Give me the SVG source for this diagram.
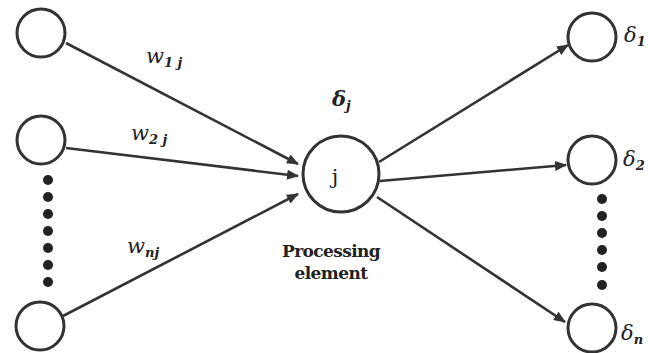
<svg xmlns="http://www.w3.org/2000/svg" width="648" height="353" viewBox="0 0 648 353">
<style>
.n{fill:#fff;stroke:#333;stroke-width:3}
.e{stroke:#333;stroke-width:2.6;fill:none;marker-end:url(#a)}
.d{fill:#222}
text{font-family:'DejaVu Serif','Liberation Serif',serif;fill:#222}
.w{font-style:italic;font-size:21px}
.s{font-size:13px;font-weight:bold}
.p{font-weight:bold;font-size:17px;text-anchor:middle;letter-spacing:-0.6px}
</style>
<defs>
<marker id="a" markerWidth="12" markerHeight="10" refX="11" refY="5" orient="auto" markerUnits="userSpaceOnUse">
<path d="M0,0 L12,5 L0,10 Z" fill="#333"/>
</marker>
</defs>
<rect width="648" height="353" fill="#fff"/>
<g id="connectors">
<line class="e" x1="66" y1="43" x2="298" y2="164"/>
<line class="e" x1="66" y1="148" x2="298" y2="176"/>
<line class="e" x1="63" y1="316" x2="298" y2="194"/>
<line class="e" x1="379" y1="162" x2="568" y2="45"/>
<line class="e" x1="380" y1="181" x2="566" y2="165"/>
<line class="e" x1="377" y1="197" x2="565" y2="322"/>
</g>
<g id="in1"><circle class="n" cx="41" cy="33" r="24"/></g>
<g id="in2"><circle class="n" cx="41" cy="140" r="24"/></g>
<g id="inN"><circle class="n" cx="40" cy="326" r="24"/></g>
<g id="dotsL">
<circle class="d" cx="48" cy="180" r="5"/><circle class="d" cx="48" cy="197" r="5"/><circle class="d" cx="48" cy="214" r="5"/><circle class="d" cx="48" cy="231" r="5"/><circle class="d" cx="48" cy="248" r="5"/><circle class="d" cx="48" cy="265" r="5"/><circle class="d" cx="48" cy="282" r="5"/>
</g>
<g id="j">
<circle class="n" cx="341" cy="174" r="38"/>
<text x="335" y="184" font-size="21" text-anchor="middle">j</text>
</g>
<g id="out1"><circle class="n" cx="592" cy="37" r="24"/></g>
<g id="out2"><circle class="n" cx="592" cy="160" r="24"/></g>
<g id="outN"><circle class="n" cx="592" cy="328" r="24"/></g>
<g id="dotsR">
<circle class="d" cx="602" cy="199" r="5"/><circle class="d" cx="602" cy="216" r="5"/><circle class="d" cx="602" cy="233" r="5"/><circle class="d" cx="602" cy="250" r="5"/><circle class="d" cx="602" cy="267" r="5"/><circle class="d" cx="602" cy="285" r="5"/>
</g>
<g id="labels">
<text class="w" x="146" y="63">w<tspan class="s" dy="4">1 j</tspan></text>
<text class="w" x="131" y="140">w<tspan class="s" dy="4">2 j</tspan></text>
<text class="w" x="127" y="253">w<tspan class="s" dy="4">nj</tspan></text>
<text class="w" x="332" y="106" font-weight="bold">δ<tspan class="s" dy="4">j</tspan></text>
<text class="w" x="624" y="42">δ<tspan class="s" dy="4">1</tspan></text>
<text class="w" x="623" y="166">δ<tspan class="s" dy="4">2</tspan></text>
<text class="w" x="621" y="340">δ<tspan class="s" dy="4">n</tspan></text>
<text class="p" x="331" y="257">Processing</text>
<text class="p" x="331" y="279">element</text>
</g>
</svg>
